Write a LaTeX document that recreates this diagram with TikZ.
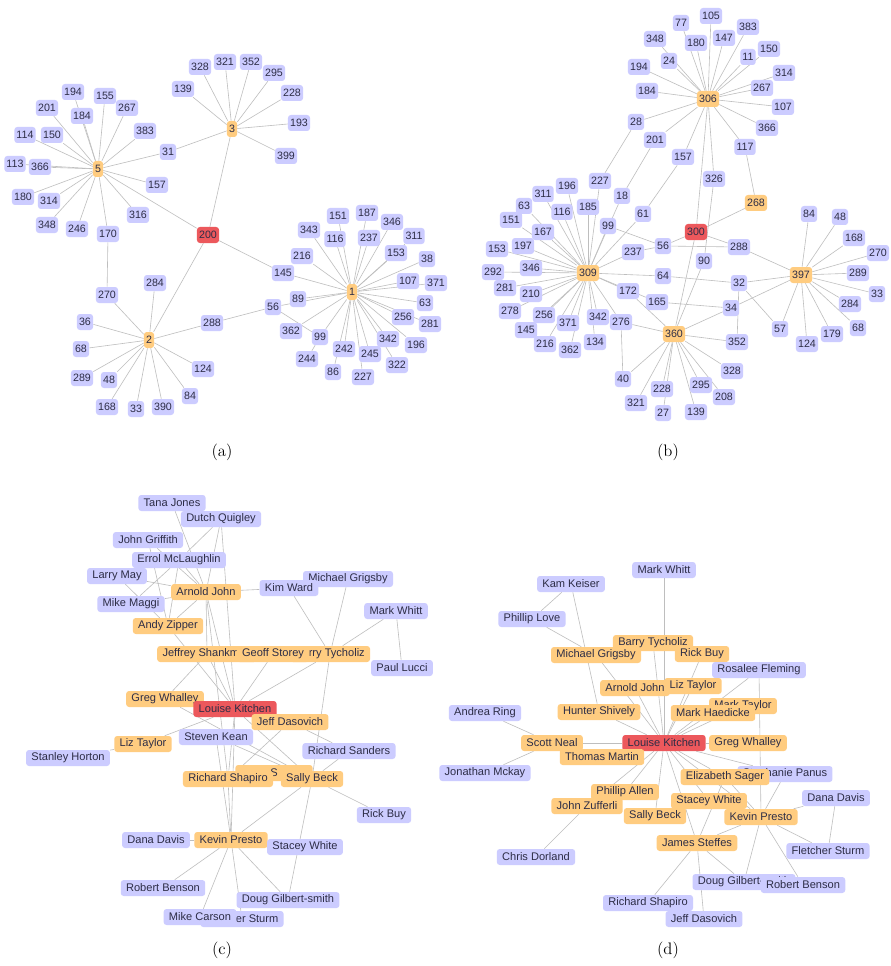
\documentclass[tikz,border=0pt]{standalone}
\usepackage{fontspec}
\newfontfamily\lblfont{Liberation Sans}
\usetikzlibrary{backgrounds}
\definecolor{lav}{RGB}{204,204,255}
\definecolor{org}{RGB}{255,204,128}
\definecolor{rd}{RGB}{236,88,92}
\definecolor{txt}{RGB}{45,45,70}
\definecolor{linkc}{RGB}{190,190,190}

\begin{document}
\begin{tikzpicture}[x=0.75pt,y=-0.75pt,
  nd/.style={rounded corners=2.2pt,inner ysep=0pt,minimum height=12pt,text=txt},
  num/.style={nd,inner xsep=1.6pt,font=\lblfont\fontsize{8}{9}\selectfont},
  nm/.style={nd,inner xsep=4pt,font=\lblfont\fontsize{8.3}{9}\selectfont},
  leaf/.style={fill=lav},
  hub/.style={fill=org},
  seed/.style={fill=rd},
  link/.style={draw=linkc,line width=0.45pt},
  subcap/.style={font=\fontsize{12.5}{14}\selectfont}]
\begin{scope}[on background layer]
\fill[white] (0,0) rectangle (890,966);
\end{scope}
\useasboundingbox (0,0) rectangle (890,966);

% (a) ego network of 200
\foreach \n/\x/\y in {194/73/92,155/105/96,201/47/108,184/82/116,267/127/108,383/145/131,
  114/25/135,150/52/135,31/168/152,113/15/164,366/40/167,157/157/185,180/23/197,314/49/201,
  316/138/215,348/47/225,246/77/229,170/108/234,328/200/67,139/183/89,321/225/62,352/251/62,
  295/274/73,228/292/93,193/299/123,399/286/156,284/155/283,270/107/295,36/85/322,288/212/323,
  68/81/349,124/203/369,289/82/378,48/109/380,84/190/396,168/107/407,33/136/409,390/163/407,
  151/338/216,187/367/213,346/392/222,343/309/230,116/335/239,237/369/238,311/414/236,
  153/396/253,216/302/256,38/427/259,145/283/273,107/408/281,371/436/283,89/298/299,56/273/307,
  63/425/303,256/403/317,281/430/324,362/291/331,99/320/337,342/388/339,196/416/345,
  242/344/349,245/370/354,244/307/359,322/397/365,86/333/372,227/363/377}
  \node[num,leaf] (a\n) at (\x,\y) {\n};
\foreach \n/\x/\y in {5/98/169,3/232/129,2/149/340,1/352/292}
  \node[num,hub] (a\n) at (\x,\y) {\n};
\node[num,seed] (a200) at (208,235) {200};

% (b) ego network of 300
\foreach \n/\x/\y in {348/655/39,194/639/67,184/647/91,28/636/122,201/655/140,227/600/181,
  196/567/186,311/543/194,18/622/196,63/524/206,185/588/207,116/562/212,61/643/214,151/511/220,
  99/608/226,167/543/232,197/523/246,153/497/249,237/633/252,56/663/246,292/493/272,346/531/268,
  64/663/276,281/505/288,210/531/294,172/628/291,165/657/302,278/510/311,256/544/315,
  371/568/323,342/598/317,276/621/322,145/526/330,216/545/344,362/570/350,134/595/342,
  40/623/379,321/636/403,228/662/389,27/663/413,77/681/23,105/711/16,383/748/27,180/696/43,
  147/724/38,24/669/61,11/748/57,150/769/49,314/784/73,267/762/88,107/783/107,366/767/128,
  117/745/147,157/683/157,326/714/179,84/809/214,48/840/217,168/854/238,288/739/247,
  270/878/253,90/704/261,289/858/273,32/739/283,33/877/294,284/850/304,34/731/308,57/780/329,
  68/858/328,179/832/334,124/807/344,352/737/342,328/732/371,295/701/385,208/724/397,139/696/412}
  \node[num,leaf] (b\n) at (\x,\y) {\n};
\foreach \n/\x/\y in {306/708/99,309/588/273,360/674/334,397/801/275,268/756/203}
  \node[num,hub] (b\n) at (\x,\y) {\n};
\node[num,seed] (b300) at (696,232) {300};

% (c) ego network of Louise Kitchen
\foreach \n/\x/\y/\t/\s in {cTJ/172/503/Tana Jones/leaf,cDQ/221/519/Dutch Quigley/leaf,
  cJG/148/540/John Griffith/leaf,cEM/179/560/Errol McLaughlin/leaf,cLM/117/576/Larry May/leaf,
  cMM/131/604/Mike Maggi/leaf,cAJ/206/592/Arnold John/hub,cMG/348/579/Michael Grigsby/leaf,
  cKW/289/588/Kim Ward/leaf,cMW/396/611/Mark Whitt/leaf,cPL/402/668/Paul Lucci/leaf,
  cAZ/168/626/Andy Zipper/hub,cJS/207/654/Jeffrey Shankman/hub,cBT/330/654/Barry Tycholiz/hub,
  cGS/273/654/Geoff Storey/hub,cGW/165/699/Greg Whalley/hub,cLK/235/709/Louise Kitchen/seed,
  cJD/290/722/Jeff Dasovich/hub,cSK/216/737/Steven Kean/leaf,cLT/143/744/Liz Taylor/hub,
  cSH/68/758/Stanley Horton/leaf,cRSa/349/751/Richard Sanders/leaf}
  \node[nm,\s] (\n) at (\x,\y) {\t};
\node[nm,hub,minimum width=58pt] (cSx) at (274,773) {S};
\foreach \n/\x/\y/\t/\s in {cRSh/228/779/Richard Shapiro/hub,cSB/312/779/Sally Beck/hub,
  cRB/384/815/Rick Buy/leaf,cDD/156/840/Dana Davis/leaf,cKP/231/840/Kevin Presto/hub,
  cSW/305/847/Stacey White/leaf,cRBe/163/888/Robert Benson/leaf,
  cDG/288/900/Doug Gilbert-smith/leaf,cFS/242/919/Fletcher Sturm/leaf,cMC/200/917/Mike Carson/leaf}
  \node[nm,\s] (\n) at (\x,\y) {\t};

% (d) ego network of Louise Kitchen
\foreach \n/\x/\y/\t/\s in {dMW/664/570/Mark Whitt/leaf,dKK/571/584/Kam Keiser/leaf,
  dPL/532/619/Phillip Love/leaf,dBT/653/643/Barry Tycholiz/hub,dMG/596/655/Michael Grigsby/hub,
  dRB/702/654/Rick Buy/hub,dRF/759/670/Rosalee Fleming/leaf,dAJ/635/688/Arnold John/hub,
  dLT/693/686/Liz Taylor/hub,dMT/743/706/Mark Taylor/hub,dMH/713/713/Mark Haedicke/hub,
  dAR/485/713/Andrea Ring/leaf,dHS/599/712/Hunter Shively/hub,dSN/552/743/Scott Neal/hub,
  dLK/664/743/Louise Kitchen/seed,dGW/748/743/Greg Whalley/hub,dTM/602/757/Thomas Martin/hub,
  dJM/485/773/Jonathan Mckay/leaf,dSP/785/774/Stephanie Panus/leaf,
  dES/725/777/Elizabeth Sager/hub,dPA/625/792/Phillip Allen/hub,dDD/836/798/Dana Davis/leaf,
  dSW/709/801/Stacey White/hub,dJZ/587/806/John Zufferli/hub,dSB/655/816/Sally Beck/hub,
  dKP/761/817/Kevin Presto/hub,dJS/697/843/James Steffes/hub,dFS/828/851/Fletcher Sturm/leaf,
  dCD/536/857/Chris Dorland/leaf,dDG/744/882/Doug Gilbert-smith/leaf,
  dRBe/803/885/Robert Benson/leaf,dRS/648/903/Richard Shapiro/leaf,dJD/704/919/Jeff Dasovich/leaf}
  \node[nm,\s] (\n) at (\x,\y) {\t};

% connectors
\begin{scope}[on background layer]
\foreach \t in {194,155,201,184,267,383,114,150,113,366,31,157,180,314,316,348,246,170,200}
  \draw[link] (a5) -- (a\t);
\foreach \t in {328,139,321,352,295,228,193,399,31,200}
  \draw[link] (a3) -- (a\t);
\foreach \t in {270,284,36,68,289,48,168,33,390,84,124,288,200}
  \draw[link] (a2) -- (a\t);
\foreach \t in {151,187,346,343,116,237,311,153,216,38,145,107,371,89,63,256,281,362,99,
  342,196,242,245,322,227,86,56}
  \draw[link] (a1) -- (a\t);
\foreach \s/\t in {170/270,288/56,56/99,244/99,200/145}
  \draw[link] (a\s) -- (a\t);

\foreach \t in {348,77,105,383,180,147,24,11,150,314,267,107,366,117,194,184,28,201,157,326,300}
  \draw[link] (b306) -- (b\t);
\foreach \t in {196,311,63,185,116,151,167,197,153,292,346,281,210,278,256,371,342,145,216,
  362,134,99,227,18,61,237,64,172,276,165}
  \draw[link] (b309) -- (b\t);
\foreach \t in {228,27,139,295,208,328,352,321,40,90,300,34,172,276}
  \draw[link] (b360) -- (b\t);
\foreach \t in {84,48,168,270,289,33,284,68,179,124,57,288,32,34}
  \draw[link] (b397) -- (b\t);
\foreach \s/\t in {28/227,201/18,157/61,300/268,268/117,300/56,300/288,56/288,56/237,99/56,
  326/90,64/32,32/57,32/352,165/34,40/276}
  \draw[link] (b\s) -- (b\t);

\foreach \s/\t in {cTJ/cAJ,cDQ/cEM,cDQ/cAJ,cDQ/cLK,cJG/cAJ,cJG/cAZ,cEM/cMM,cEM/cAJ,cEM/cAZ,
  cLM/cAJ,cLM/cAZ,cMM/cAJ,cAZ/cAJ,cAZ/cLK,cAJ/cKW,cAJ/cLK,cAJ/cJS,cAJ/cRSh,cKW/cBT,cMG/cBT,
  cMW/cBT,cMW/cPL,cBT/cLK,cBT/cSB,cGS/cLK,cJS/cGW,cJS/cLK,cGW/cSB,cLT/cLK,cLT/cSH,cLK/cJD,
  cJD/cRSa,cJD/cRSh,cLK/cSB,cLK/cRSh,cLK/cKP,cSK/cSB,cSK/cKP,cRSa/cSB,cSB/cRB,cSB/cDG,
  cRSh/cKP,cKP/cSB,cKP/cDD,cKP/cRBe,cKP/cMC,cKP/cFS,cKP/cDG}
  \draw[link] (\s) -- (\t);

\foreach \t in {dMW,dBT,dMG,dRB,dRF,dAJ,dLT,dMT,dMH,dHS,dSN,dGW,dTM,dES,dSP,dPA,dJZ,dSB,
  dSW,dKP,dJS}
  \draw[link] (dLK) -- (\t);
\foreach \s/\t in {dKK/dPL,dKK/dHS,dPL/dMG,dSN/dAR,dSN/dJM,dJZ/dCD,dRF/dKP,dKP/dDD,dKP/dFS,
  dDD/dFS,dKP/dRBe,dKP/dDG,dKP/dJS,dKP/dSP,dKP/dES,dKP/dSW,dJS/dRS,dJS/dJD,dJS/dDG,dJS/dES}
  \draw[link] (\s) -- (\t);
\end{scope}

% sub-figure labels
\node[subcap] (capa) at (222,452) {(a)};
\node[subcap] (capb) at (668,452) {(b)};
\node[subcap] (capc) at (222,950) {(c)};
\node[subcap] (capd) at (668,950) {(d)};
\end{tikzpicture}
\end{document}
